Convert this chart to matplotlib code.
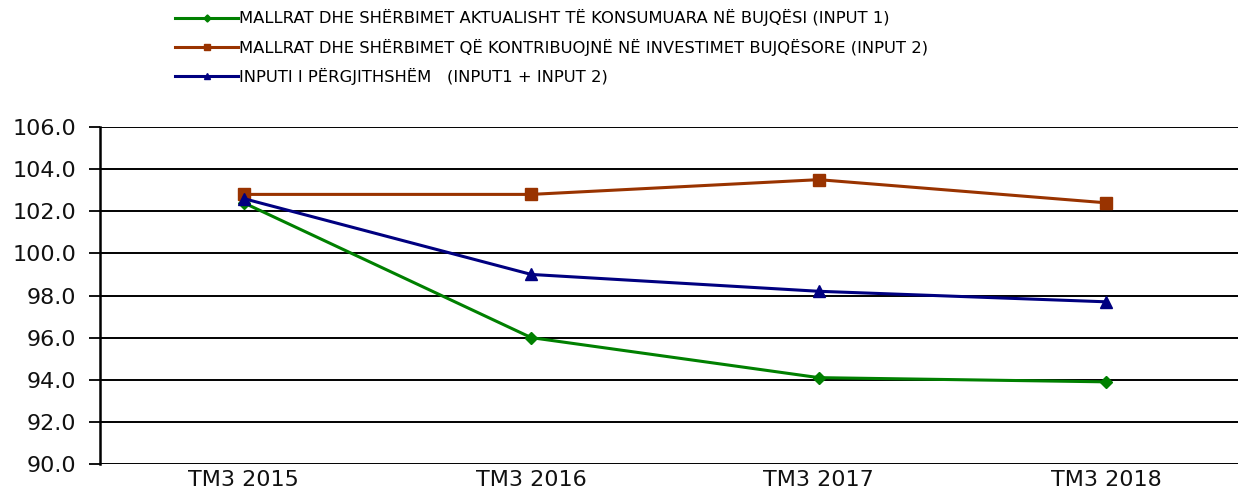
import matplotlib
matplotlib.use('Agg')
import matplotlib.pyplot as plt

# Data
periods = ['TM3 2015', 'TM3 2016', 'TM3 2017', 'TM3 2018']
input1 = [102.4, 96.0, 94.1, 93.9]
input2 = [102.8, 102.8, 103.5, 102.4]
total = [102.6, 99.0, 98.2, 97.7]

labels = [
    'MALLRAT DHE SHËRBIMET AKTUALISHT TË KONSUMUARA NË BUJQËSI (INPUT 1)',
    'MALLRAT DHE SHËRBIMET QË KONTRIBUOJNË NË INVESTIMET BUJQËSORE (INPUT 2)',
    'INPUTI I PËRGJITHSHËM   (INPUT1 + INPUT 2)',
]

plt.rcParams['font.family'] = ['DejaVu Sans']

fig = plt.figure(figsize=(12.38, 4.97), dpi=100)
ax = fig.add_axes([100 / 1238, 33 / 497, 1150 / 1238, 337 / 497])

x = range(len(periods))
l1, = ax.plot(x, input1, color='#008000', lw=2.2, marker='D', ms=6, label=labels[0])
l2, = ax.plot(x, input2, color='#993300', lw=2.2, marker='s', ms=8, label=labels[1])
l3, = ax.plot(x, total, color='#000080', lw=2.2, marker='^', ms=8, label=labels[2])

ax.set_xlim(-0.5, 3.5)
ax.set_ylim(90, 106)
ax.set_yticks([90, 92, 94, 96, 98, 100, 102, 104, 106])
ax.set_yticklabels([f'{v:.1f}' for v in ax.get_yticks()], fontsize=16,
                   color='#111111')
ax.set_xticks(list(x))
ax.set_xticklabels(periods, fontsize=16, color='#111111')
ax.tick_params(axis='x', length=0, pad=4)
ax.tick_params(axis='y', length=8, width=1.3, direction='out', pad=9)

ax.grid(axis='y', color='black', lw=1.4)
ax.set_axisbelow(True)
for side in ['top', 'right', 'bottom']:
    ax.spines[side].set_visible(False)
ax.spines['left'].set_linewidth(1.8)

fig.legend(handles=[l1, l2, l3], loc='upper left',
           bbox_to_anchor=(164 / 1238, 1.004), frameon=False, fontsize=11.8,
           handlelength=3.8, handletextpad=0.1, labelspacing=0.74,
           borderaxespad=0.3, markerscale=0.6)

fig.savefig('out.png', dpi=100)
